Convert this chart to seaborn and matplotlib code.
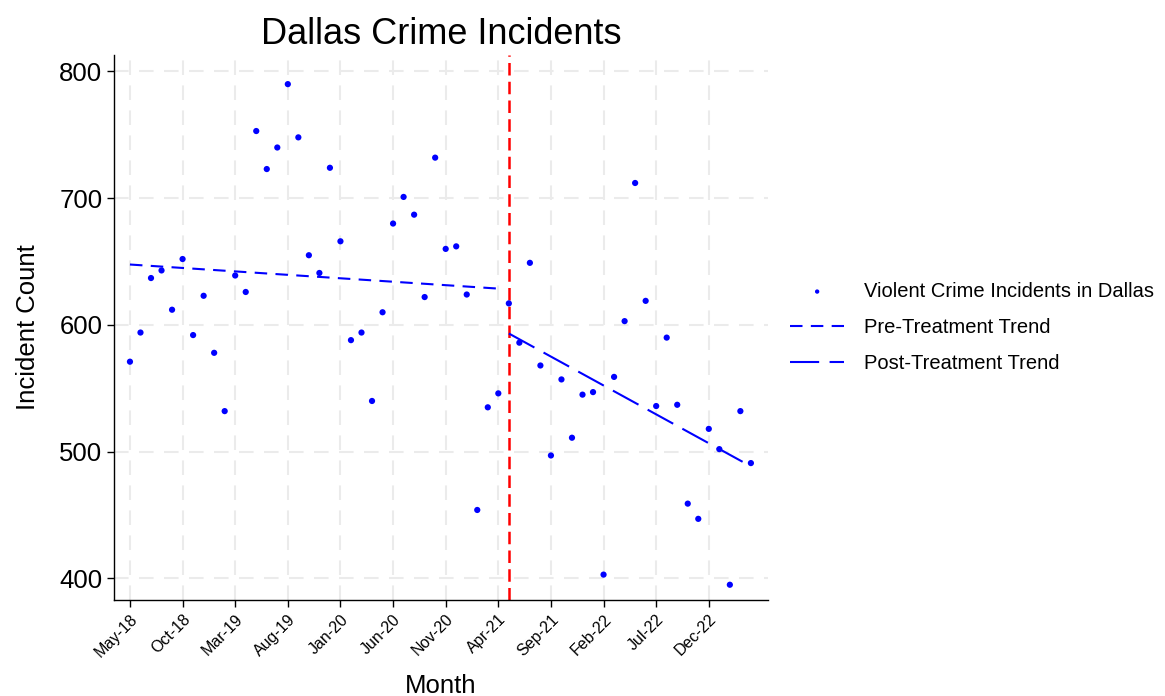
import numpy as np
import pandas as pd
import matplotlib
matplotlib.use("Agg")
import matplotlib.pyplot as plt
import seaborn as sns

# monthly violent crime incidents, May-18 .. Apr-23
months = pd.date_range("2018-05-01", "2023-04-01", freq="MS")
incidents = [571, 594, 637, 643, 612, 652, 592, 623, 578, 532,
             639, 626, 753, 723, 740, 790, 748, 655, 641, 724,
             666, 588, 594, 540, 610, 680, 701, 687, 622, 732,
             660, 662, 624, 454, 535, 546, 617, 586, 649, 568,
             497, 557, 511, 545, 547, 403, 559, 603, 712, 619,
             536, 590, 537, 459, 447, 518, 502, 395, 532, 491]
treatment_month = "2021-05"
tick_every = 5

sns.set_style("white")
plt.rcParams["font.family"] = ["Liberation Sans", "DejaVu Sans"]
plt.rcParams.update({"text.color": "black", "axes.labelcolor": "black",
                     "xtick.color": "black", "ytick.color": "black"})

df = pd.DataFrame({"month": months, "count": incidents})
df["t"] = np.arange(len(df))
treat_idx = df.index[df["month"].dt.strftime("%Y-%m") == treatment_month][0]

pre = df[df["t"] < treat_idx].copy()
post = df[df["t"] >= treat_idx].copy()
pre["fit"] = np.polyval(np.polyfit(pre["t"], pre["count"], 1), pre["t"])
post["fit"] = np.polyval(np.polyfit(post["t"], post["count"], 1), post["t"])

fig = plt.figure(figsize=(11.65, 6.96), dpi=100)
ax = fig.add_axes([0.098, 0.138, 0.561, 0.783])

sns.scatterplot(data=df, x="t", y="count", ax=ax, color="#0000ff", s=20,
                edgecolor="none", label="Violent Crime Incidents in Dallas", zorder=3)
ax.plot(pre["t"], pre["fit"], color="#0000ff", lw=1.5, dashes=(6, 4),
        label="Pre-Treatment Trend", zorder=3)
ax.plot(post["t"], post["fit"], color="#0000ff", lw=1.5, dashes=(14, 5),
        label="Post-Treatment Trend", zorder=3)
ax.axvline(treat_idx, color="red", lw=1.8, dashes=(5, 2.5), zorder=2)

ticks = df["t"][::tick_every]
ax.set_xticks(ticks)
ax.set_xticklabels(df["month"][::tick_every].dt.strftime("%b-%y"),
                   rotation=45, ha="right", rotation_mode="anchor", fontsize=11.5)
ax.set_yticks([400, 500, 600, 700, 800])
ax.tick_params(axis="y", labelsize=18.5, length=5, width=1, direction="out", left=True)
ax.tick_params(axis="x", length=5, width=1, direction="out", bottom=True)
ax.set_xlim(-1.5, 60.6)
ax.set_ylim(383, 813)

ax.grid(True, color="#ebebeb", lw=1.5, dashes=(7, 5))
ax.set_axisbelow(True)
sns.despine(ax=ax)
for s in ["left", "bottom"]:
    ax.spines[s].set_color("black")
    ax.spines[s].set_linewidth(1)

ax.set_title("Dallas Crime Incidents", fontsize=26, pad=8)
ax.set_xlabel("Month", fontsize=18.5, labelpad=10)
ax.set_ylabel("Incident Count", fontsize=18.5, labelpad=14)

ax.legend(loc="center left", bbox_to_anchor=(1.034, 0.5), frameon=False,
          fontsize=14.5, handlelength=2.7, handletextpad=1.0, labelspacing=0.85,
          borderpad=0, borderaxespad=0, markerscale=0.7)

fig.savefig("out.png", dpi=100)
